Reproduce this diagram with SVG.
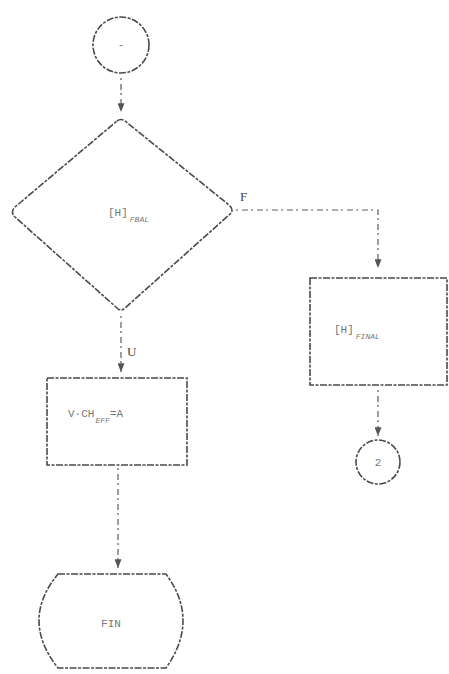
<svg xmlns="http://www.w3.org/2000/svg" width="449" height="674" viewBox="0 0 449 674">
<style>
.s{fill:none;stroke:#4a4a4a;stroke-width:1.6;stroke-dasharray:7 1.5 3 1.5}
.c{fill:none;stroke:#5a5a5a;stroke-width:1.2;stroke-dasharray:2 4 6 3}
.t{font-family:"Liberation Mono",monospace;font-size:11px;fill:#777}
.sub{font-family:"Liberation Mono",monospace;font-size:8px;fill:#777;font-style:italic}
.l{font-family:"Liberation Serif",serif;font-size:13px;fill:#444}
</style>
<defs>
<marker id="ah" viewBox="0 0 10 8" refX="10" refY="4" markerWidth="9" markerHeight="7" orient="auto" markerUnits="userSpaceOnUse">
<path d="M0,0 L10,4 L0,8 Z" fill="#555"/>
</marker>
</defs>
<rect width="449" height="674" fill="#fff"/>
<g id="connectors">
<line class="c" x1="121" y1="78" x2="121" y2="112" marker-end="url(#ah)"/>
<polyline class="c" points="236,210 378,210 378,268" marker-end="url(#ah)"/>
<polyline class="c" points="121,316 121,372" marker-end="url(#ah)"/>
<line class="c" x1="378" y1="390" x2="378" y2="436" marker-end="url(#ah)"/>
<line class="c" x1="118" y1="468" x2="118" y2="568" marker-end="url(#ah)"/>
<text class="l" x="240" y="201">F</text>
<text class="l" x="127" y="356">U</text>
</g>
<g id="start">
<circle class="s" cx="121" cy="45" r="28"/>
<text class="t" x="121" y="48" text-anchor="middle">-</text>
</g>
<g id="decision">
<path class="s" d="M117,121 Q121,118 125,121 L229,205 Q235,210 229,215 L125,308 Q121,312 117,308 L15,217 Q10,212 15,207 Z"/>
<text class="t" x="108" y="216">[H]<tspan class="sub" dx="2" dy="6">FBAL</tspan></text>
</g>
<g id="box-right">
<rect class="s" x="310" y="278" width="137" height="107"/>
<text class="t" x="334" y="333">[H]<tspan class="sub" dx="2" dy="6">FINAL</tspan></text>
</g>
<g id="circle-right">
<circle class="s" cx="378" cy="462" r="22"/>
<text class="t" x="378" y="466" text-anchor="middle">2</text>
</g>
<g id="box-left">
<rect class="s" x="47" y="378" width="140" height="87"/>
<text class="t" x="68" y="417">V·CH<tspan class="sub" dx="1" dy="6">EFF</tspan><tspan dy="-6">=A</tspan></text>
</g>
<g id="end">
<path class="s" d="M58,574 L166,574 Q200,620 166,668 L58,668 Q20,620 58,574 Z"/>
<text class="t" x="111" y="627" text-anchor="middle">FIN</text>
</g>
</svg>
